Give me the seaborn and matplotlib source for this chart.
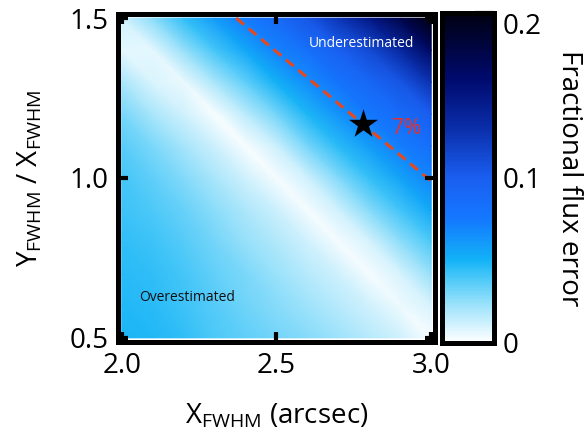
import numpy as np
import matplotlib
matplotlib.use("Agg")
import matplotlib.pyplot as plt
import matplotlib.tri as mtri
from matplotlib.colors import LinearSegmentedColormap
import seaborn as sns

# grid
x_fwhm = [2.0, 2.1, 2.2, 2.3, 2.4, 2.5, 2.6, 2.7, 2.8, 2.9, 3.0]
ratio = [0.5, 0.6, 0.7, 0.8, 0.9, 1.0, 1.1, 1.2, 1.3, 1.4, 1.5]

# fractional flux error, one row per ratio value (bottom to top)
row_05 = [0.048, 0.047, 0.044, 0.039, 0.035, 0.031, 0.027, 0.022, 0.017, 0.011, 0.002]
row_06 = [0.047, 0.046, 0.042, 0.037, 0.032, 0.027, 0.022, 0.017, 0.011, 0.004, 0.010]
row_07 = [0.046, 0.044, 0.040, 0.034, 0.029, 0.023, 0.017, 0.011, 0.003, 0.010, 0.024]
row_08 = [0.044, 0.042, 0.037, 0.031, 0.024, 0.018, 0.011, 0.003, 0.010, 0.025, 0.039]
row_09 = [0.042, 0.039, 0.033, 0.026, 0.019, 0.012, 0.003, 0.011, 0.027, 0.041, 0.055]
row_10 = [0.040, 0.035, 0.028, 0.020, 0.011, 0.003, 0.011, 0.028, 0.043, 0.057, 0.070]
row_11 = [0.036, 0.029, 0.021, 0.012, 0.002, 0.012, 0.030, 0.046, 0.060, 0.073, 0.084]
row_12 = [0.030, 0.020, 0.011, 0.002, 0.016, 0.031, 0.048, 0.064, 0.076, 0.087, 0.100]
row_13 = [0.020, 0.009, 0.005, 0.020, 0.035, 0.051, 0.066, 0.080, 0.092, 0.105, 0.128]
row_14 = [0.007, 0.007, 0.024, 0.040, 0.055, 0.071, 0.083, 0.098, 0.112, 0.135, 0.165]
row_15 = [0.011, 0.026, 0.044, 0.060, 0.074, 0.088, 0.104, 0.125, 0.148, 0.175, 0.200]

# 7% line and the star
contour_x = [2.37, 3.0]
contour_y = [1.5, 0.99]
star_x = [2.78]
star_y = [1.17]

cbar_ticks = [0, 0.1, 0.2]
cbar_labels = ["0", "0.1", "0.2"]
x_ticks = [2.0, 2.5, 3.0]
y_ticks = [0.5, 1.0, 1.5]

sns.set_theme(style="white")
plt.rcParams["font.family"] = ["Open Sans", "DejaVu Sans"]
plt.rcParams["mathtext.fontset"] = "custom"
plt.rcParams["mathtext.rm"] = "Open Sans"
plt.rcParams["mathtext.default"] = "regular"
for key in ["text.color", "axes.labelcolor", "xtick.color", "ytick.color"]:
    plt.rcParams[key] = "black"

cmap = LinearSegmentedColormap.from_list("flux", [
    (0.0, "#ffffff"), (0.1, "#a8e6fb"), (0.2, "#45c6f8"), (0.25, "#12b2f6"),
    (0.375, "#1478ff"), (0.5, "#1a5ef0"), (0.65, "#0a2eaa"),
    (0.8, "#000a6e"), (1.0, "#000010")])

fig = plt.figure(figsize=(5.87, 4.37), dpi=100)
ax = fig.add_axes([0.201, 0.2174, 0.540, 0.7506])
cax = fig.add_axes([0.753, 0.216, 0.0886, 0.755])

flux_error = np.array([row_05, row_06, row_07, row_08, row_09, row_10,
                       row_11, row_12, row_13, row_14, row_15])
gx, gy = np.meshgrid(x_fwhm, ratio)
nx = len(x_fwhm)
triangles = []
for j in range(len(ratio) - 1):
    for i in range(nx - 1):
        bl = j * nx + i
        tl = bl + nx
        triangles.append([bl, bl + 1, tl])
        triangles.append([bl + 1, tl + 1, tl])
tri = mtri.Triangulation(gx.ravel(), gy.ravel(), triangles)
mesh = ax.tripcolor(tri, flux_error.ravel(), shading="gouraud",
                    cmap=cmap, vmin=0, vmax=0.2)

sns.lineplot(x=contour_x, y=contour_y, ax=ax, color="#e8481e", linewidth=2.2,
             linestyle=(0, (3.3, 2.0)), zorder=4)
sns.scatterplot(x=star_x, y=star_y, ax=ax, marker="*", s=480, color="black",
                linewidth=0, zorder=5)

ax.text(2.776, 1.42, "Underestimated", color="white", fontsize=10,
        ha="center", va="center")
ax.text(2.21, 0.625, "Overestimated", color="#111111", fontsize=10,
        ha="center", va="center")
ax.text(2.921, 1.156, "7%", color="#e8302a", fontsize=15,
        ha="center", va="center")

ax.set_xlim(1.988, 3.012)
ax.set_ylim(0.487, 1.513)
ax.set_xticks(x_ticks)
ax.set_yticks(y_ticks)
ax.tick_params(direction="in", length=7, width=3, top=True, right=True,
               bottom=True, left=True, labelsize=20, pad=7, colors="black")
ax.xaxis.set_zorder(7)
ax.yaxis.set_zorder(7)
ax.set_xlabel(r"X$_{FWHM}$ (arcsec)", fontsize=20, labelpad=16)
ax.set_ylabel(r"Y$_{FWHM}$ / X$_{FWHM}$", fontsize=20, labelpad=18)
for sp in ax.spines.values():
    sp.set_visible(True)
    sp.set_color("black")
    sp.set_linewidth(3.6)
    sp.set_zorder(6)

cb = fig.colorbar(mesh, cax=cax, ticks=cbar_ticks)
cb.set_ticklabels(cbar_labels)
cb.outline.set_linewidth(3.6)
cb.outline.set_edgecolor("black")
cax.tick_params(direction="in", length=14, width=3, right=True, left=False,
                labelsize=20, pad=6, colors="black")
cax.get_yticklabels()[-1].set_va("top")
cb.set_label("Fractional flux error", rotation=270, fontsize=20, labelpad=30)

fig.savefig("out.png", dpi=100)
